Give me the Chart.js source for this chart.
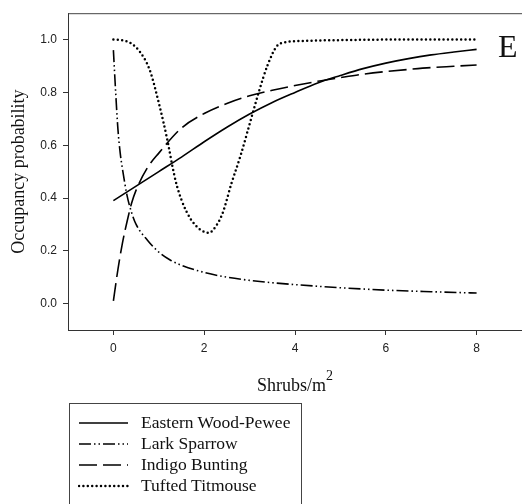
<!DOCTYPE html>
<html>
<head>
<meta charset="utf-8">
<script src="https://cdn.jsdelivr.net/npm/chart.js@4/dist/chart.umd.min.js"></script>
<style>
	body { margin: 0; background: #fff; overflow: hidden; }
	#wrap { position: relative; width: 522px; height: 504px; }
	#legend {
		position: absolute; left: 69px; top: 403px; width: 233px; height: 110px;
		border: 1px solid #444; box-sizing: border-box; padding-top: 8px;
		font-family: "Liberation Serif", "Times New Roman", serif; font-size: 17.5px; color: #111;
	}
	#legend .row { height: 21px; display: flex; align-items: center; }
	#legend svg { margin-left: 8px; margin-right: 12px; }
</style>
</head>
<body>
<div id="wrap">
	<canvas id="chart" width="522" height="504"></canvas>
	<div id="legend"></div>
</div>
<script>
// values
const species = ['Eastern Wood-Pewee', 'Lark Sparrow', 'Indigo Bunting', 'Tufted Titmouse'];

const ewpX = [0, 0.5, 1, 1.5, 2, 2.5, 3, 3.5, 4, 4.5, 5, 5.5, 6, 6.5, 7, 7.5, 8];
const ewpY = [0.39, 0.445, 0.5, 0.555, 0.613, 0.668, 0.718, 0.762, 0.8, 0.836, 0.864, 0.89, 0.911, 0.928, 0.942, 0.953, 0.963];

const lasX = [0, 0.05, 0.1, 0.15, 0.2, 0.3, 0.4, 0.5, 0.75, 1, 1.25, 1.5, 2, 2.5, 3, 3.5, 4, 5, 6, 7, 8];
const lasY = [0.96, 0.8, 0.66, 0.57, 0.51, 0.41, 0.345, 0.3, 0.24, 0.195, 0.165, 0.145, 0.118, 0.1, 0.088, 0.079, 0.072, 0.06, 0.051, 0.045, 0.04];

const inbX = [0, 0.1, 0.2, 0.3, 0.4, 0.5, 0.75, 1, 1.5, 2, 2.5, 3, 3.5, 4, 4.5, 5, 5.5, 6, 6.5, 7, 7.5, 8];
const inbY = [0.01, 0.13, 0.23, 0.31, 0.38, 0.43, 0.515, 0.57, 0.665, 0.72, 0.758, 0.787, 0.808, 0.826, 0.842, 0.856, 0.869, 0.879, 0.887, 0.894, 0.899, 0.904];

const tutiX = [0, 0.2, 0.4, 0.6, 0.8, 1, 1.2, 1.3, 1.4, 1.6, 1.8, 2, 2.1, 2.2, 2.4, 2.6, 2.8, 3, 3.2, 3.4, 3.6, 3.8, 4.2, 5, 6, 7, 8];
const tutiY = [1.0, 0.997, 0.985, 0.95, 0.885, 0.76, 0.61, 0.52, 0.445, 0.352, 0.298, 0.272, 0.268, 0.28, 0.34, 0.455, 0.56, 0.68, 0.8, 0.905, 0.975, 0.99, 0.995, 0.998, 1.0, 1.0, 1.0];

const xTicks = [0, 2, 4, 6, 8];
const yTicks = [0, 0.2, 0.4, 0.6, 0.8, 1.0];

const serif = '"Liberation Serif", "Times New Roman", serif';
const sans = '"Liberation Sans", Arial, sans-serif';

function pts(xs, ys) {
	return xs.map((x, i) => ({x: x, y: ys[i]}));
}

const dashes = [[], [12, 3, 1.5, 3, 1.5, 3], [18, 6], [0, 4.4]];
const series = [pts(ewpX, ewpY), pts(lasX, lasY), pts(inbX, inbY), pts(tutiX, tutiY)];

const datasets = species.map((name, i) => ({
	label: name,
	data: series[i],
	borderColor: '#000',
	borderWidth: i === 3 ? 2.5 : 1.6,
	borderDash: dashes[i],
	borderCapStyle: i === 3 ? 'round' : 'butt',
	pointRadius: 0,
	fill: false,
	cubicInterpolationMode: 'monotone'
}));

const extras = {
	id: 'extras',
	afterDraw(chart) {
		const ctx = chart.ctx;
		const a = chart.chartArea;
		ctx.save();
		// top frame line
		ctx.strokeStyle = '#444';
		ctx.lineWidth = 1;
		ctx.beginPath();
		ctx.moveTo(a.left, a.top + 0.5);
		ctx.lineTo(chart.width, a.top + 0.5);
		ctx.stroke();

		// x title with superscript
		ctx.fillStyle = '#111';
		ctx.textBaseline = 'alphabetic';
		ctx.font = '18px ' + serif;
		const w1 = ctx.measureText('Shrubs/m').width;
		ctx.font = '14px ' + serif;
		const w2 = ctx.measureText('2').width;
		const x0 = (a.left + a.right) / 2 - (w1 + w2) / 2;
		ctx.font = '18px ' + serif;
		ctx.fillText('Shrubs/m', x0, 390.5);
		ctx.font = '14px ' + serif;
		ctx.fillText('2', x0 + w1, 380);

		// panel letter
		ctx.font = '32px ' + serif;
		ctx.fillText('E', 498, 57);
		ctx.restore();
	}
};

new Chart(document.getElementById('chart'), {
	type: 'line',
	data: { datasets: datasets },
	plugins: [extras],
	options: {
		responsive: false,
		animation: false,
		layout: { padding: { top: 12, right: 0, left: 0, bottom: 104 } },
		plugins: { legend: { display: false }, tooltip: { enabled: false } },
		scales: {
			x: {
				type: 'linear', min: -1, max: 9,
				afterBuildTicks: (scale) => { scale.ticks = xTicks.map(v => ({value: v})); },
				afterFit: (scale) => { scale.height = 70; },
				grid: { display: true, drawOnChartArea: false, drawTicks: true, tickLength: 5, color: '#333' },
				border: { display: true, color: '#333', width: 1 },
				ticks: { padding: 6, color: '#222', font: { family: sans, size: 12 }, maxRotation: 0 }
			},
			y: {
				type: 'linear', min: -0.1, max: 1.1,
				afterBuildTicks: (scale) => { scale.ticks = yTicks.map(v => ({value: v})); },
				afterFit: (scale) => { scale.width = 68; },
				grid: { display: true, drawOnChartArea: false, drawTicks: true, tickLength: 5, color: '#333' },
				border: { display: true, color: '#333', width: 1 },
				ticks: { padding: 6, color: '#222', font: { family: sans, size: 12 }, callback: (v) => v.toFixed(1) },
				title: { display: true, text: 'Occupancy probability', color: '#111', font: { family: serif, size: 18 }, padding: { top: 8, bottom: 0 } }
			}
		}
	}
});

// legend box below the plot
const legend = document.getElementById('legend');
datasets.forEach((d) => {
	const row = document.createElement('div');
	row.className = 'row';
	const cap = d.borderCapStyle === 'round' ? 'round' : 'butt';
	const dash = d.borderDash.length ? d.borderDash.join(' ') : 'none';
	row.innerHTML = '<svg width="51" height="10"><line x1="1" y1="5" x2="50" y2="5" stroke="#000" stroke-width="' +
		d.borderWidth + '" stroke-dasharray="' + dash + '" stroke-linecap="' + cap + '"/></svg><span>' + d.label + '</span>';
	legend.appendChild(row);
});
</script>
</body>
</html>
